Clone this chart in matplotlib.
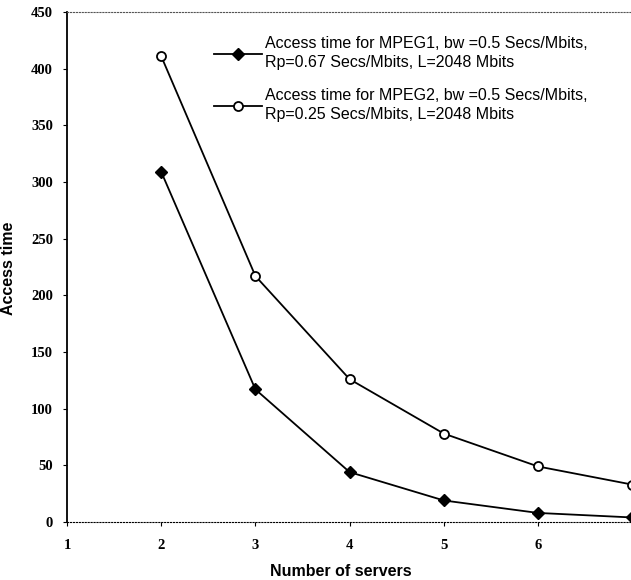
import matplotlib.pyplot as plt
import numpy as np

servers = [2, 3, 4, 5, 6, 7]
mpeg1 = [309, 117, 44, 19, 8, 4]
mpeg2 = [411, 217, 126, 78, 49, 33]
label1 = "Access time for MPEG1, bw =0.5 Secs/Mbits,\nRp=0.67 Secs/Mbits, L=2048 Mbits"
label2 = "Access time for MPEG2, bw =0.5 Secs/Mbits,\nRp=0.25 Secs/Mbits, L=2048 Mbits"
xticks = [1, 2, 3, 4, 5, 6]
yticks = list(range(0, 451, 50))

fig = plt.figure(figsize=(6.31, 5.80), dpi=100)
ax = fig.add_axes([67/631, 58/580, 1 - 67/631 + 0.002, 510/580])

ax.plot(servers, mpeg1, color="black", lw=1.3, marker="D", ms=6.5,
        mfc="black", mec="black", label=label1, clip_on=False)
ax.plot(servers, mpeg2, color="black", lw=1.3, marker="o", ms=6.5,
        mfc="white", mec="black", mew=1.3, label=label2, clip_on=False)

ax.set_xlim(1, 7)
ax.set_ylim(0, 450)
ax.set_xticks(xticks)
ax.set_yticks(yticks)
for lab in ax.get_xticklabels() + ax.get_yticklabels():
    lab.set_family("Liberation Serif")
    lab.set_fontweight("bold")
    lab.set_fontsize(10.5)
ax.tick_params(direction="out", length=3, width=0.8)
ax.tick_params(axis="x", pad=9)
ax.tick_params(axis="y", pad=7)

ax.spines["right"].set_visible(False)
ax.spines["top"].set_linestyle(":")
ax.spines["top"].set_color("#555555")
ax.spines["bottom"].set_linestyle(":")
ax.spines["left"].set_linewidth(1.3)

ax.set_xlabel("Number of servers", family="Liberation Sans", fontweight="bold",
              fontsize=11.5)
ax.set_ylabel("Access time", family="Liberation Sans", fontweight="bold",
              fontsize=11.5)
ax.xaxis.set_label_coords((340 - 67) / 564, (522 - 564) / 510)
ax.yaxis.set_label_coords((16 - 67) / 564, (522 - 268) / 510)

leg = ax.legend(loc="upper left", bbox_to_anchor=(200/631, 1 - 22/580),
                bbox_transform=fig.transFigure, frameon=False,
                prop={"family": "Liberation Sans", "size": 11.5},
                handlelength=3.0, handletextpad=0.15, labelspacing=1.15)
for t in leg.get_texts():
    t.set_linespacing(1.3)

fig.savefig("out.png", dpi=100)
